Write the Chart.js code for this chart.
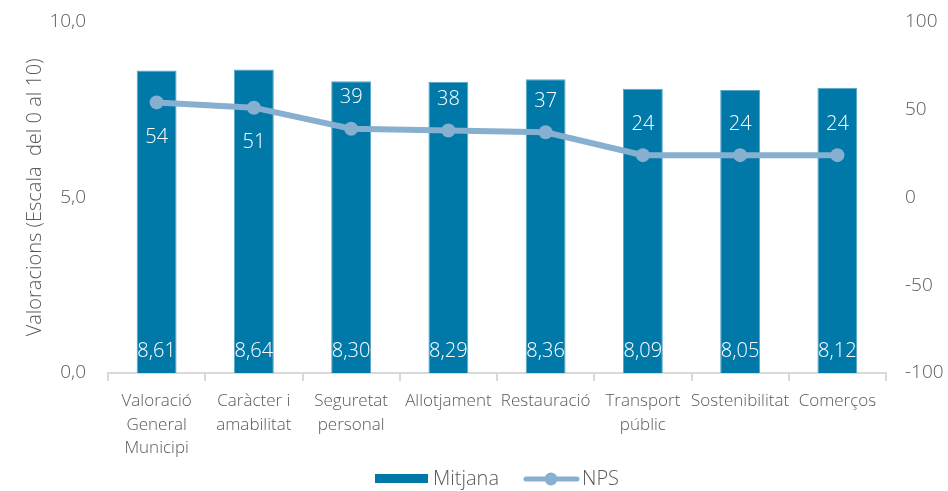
<html>
<head>
<meta charset="utf-8">
<script src="https://cdn.jsdelivr.net/npm/chart.js@4.4.1/dist/chart.umd.min.js"></script>
<style>
  body { margin: 0; background: #fff; }
  #chart { display: block; }
</style>
</head>
<body>
<canvas id="chart" width="948" height="491"></canvas>
<script>
// categories and values
var categories = [
  ["Valoració", "General", "Municipi"],
  ["Caràcter i", "amabilitat"],
  ["Seguretat", "personal"],
  "Allotjament",
  "Restauració",
  ["Transport", "públic"],
  "Sostenibilitat",
  "Comerços"
];
var mitjana = [8.61, 8.64, 8.30, 8.29, 8.36, 8.09, 8.05, 8.12];
var nps = [54, 51, 39, 38, 37, 24, 24, 24];
var seriesNames = ["Mitjana", "NPS"];

// where the NPS number sits relative to its point
var npsLabelSide = ["below", "below", "above", "above", "above", "above", "above", "above"];

var barColor = "#0079a8";
var lineColor = "#87afd0";
var textColor = "#595959";
var fontFamily = "'Open Sans', 'Noto Sans', sans-serif";

function comma(v, d) {
  return v.toFixed(d).replace(".", ",");
}

var valueLabels = {
  id: "valueLabels",
  afterDatasetsDraw: function(chart) {
    var ctx = chart.ctx;
    ctx.save();
    ctx.font = "300 20px " + fontFamily;
    ctx.fillStyle = "#ffffff";
    ctx.textAlign = "center";
    ctx.textBaseline = "middle";
    var bottom = chart.scales.y.getPixelForValue(0);
    chart.getDatasetMeta(0).data.forEach(function(bar, i) {
      ctx.fillText(comma(mitjana[i], 2), bar.x, bottom - 22);
    });
    chart.getDatasetMeta(1).data.forEach(function(pt, i) {
      var dy = npsLabelSide[i] === "below" ? 35 : -31;
      ctx.fillText(String(nps[i]), pt.x, pt.y + dy);
    });
    ctx.restore();
  }
};

// legend drawn by hand: a flat bar swatch and a line swatch with a dot
var bottomLegend = {
  id: "bottomLegend",
  afterDraw: function(chart) {
    var ctx = chart.ctx;
    var area = chart.chartArea;
    ctx.save();
    ctx.font = "300 20px " + fontFamily;
    ctx.textBaseline = "middle";
    ctx.textAlign = "left";
    var y = 479;
    var w0 = ctx.measureText(seriesNames[0]).width;
    var w1 = ctx.measureText(seriesNames[1]).width;
    var total = 53 + 5 + w0 + 25 + 55 + 3 + w1;
    var x = (area.left + area.right) / 2 - total / 2;

    ctx.fillStyle = barColor;
    ctx.fillRect(x, y - 5, 53, 9);
    x += 58;
    ctx.fillStyle = textColor;
    ctx.fillText(seriesNames[0], x, y);
    x += w0 + 25;

    ctx.strokeStyle = lineColor;
    ctx.lineWidth = 5;
    ctx.lineCap = "round";
    ctx.beginPath(); ctx.moveTo(x + 2, y); ctx.lineTo(x + 53, y); ctx.stroke();
    ctx.fillStyle = lineColor;
    ctx.beginPath(); ctx.arc(x + 27, y, 6.5, 0, Math.PI * 2); ctx.fill();
    x += 58;
    ctx.fillStyle = textColor;
    ctx.fillText(seriesNames[1], x, y);
    ctx.restore();
  }
};

new Chart(document.getElementById("chart"), {
  data: {
    labels: categories,
    datasets: [
      {
        type: "bar",
        label: seriesNames[0],
        data: mitjana,
        yAxisID: "y",
        backgroundColor: barColor,
        borderColor: "#5aa5c9",
        borderWidth: 1,
        barPercentage: 0.41,
        categoryPercentage: 1,
        order: 2
      },
      {
        type: "line",
        label: seriesNames[1],
        data: nps,
        yAxisID: "y2",
        borderColor: lineColor,
        backgroundColor: lineColor,
        borderWidth: 6,
        pointRadius: 7,
        pointBackgroundColor: lineColor,
        pointBorderWidth: 0,
        tension: 0,
        order: 1
      }
    ]
  },
  options: {
    responsive: false,
    animation: false,
    layout: { padding: { top: 0, bottom: 30, left: 23, right: 0 } },
    scales: {
      x: {
        offset: true,
        grid: {
          offset: true,
          drawOnChartArea: false,
          color: "#d9d9d9",
          tickLength: 8,
          lineWidth: 2
        },
        border: { display: true, color: "#d9d9d9", width: 2 },
        ticks: {
          color: textColor,
          font: { family: fontFamily, size: 17, weight: 300, lineHeight: 1.4 },
          maxRotation: 0,
          autoSkip: false,
          padding: 8
        },
        afterFit: function(s) { s.height = 88; }
      },
      y: {
        position: "left",
        min: 0,
        max: 10,
        grid: { display: false },
        border: { display: false },
        ticks: {
          stepSize: 5,
          color: textColor,
          padding: 14,
          font: { family: fontFamily, size: 19, weight: 300, lineHeight: 0.8 },
          callback: function(v) { return comma(v, 1); }
        },
        title: {
          display: true,
          text: "Valoracions (Escala  del 0 al 10)",
          color: textColor,
          font: { family: fontFamily, size: 20, weight: 300 },
          padding: 0
        },
        afterFit: function(s) { s.width = 85; }
      },
      y2: {
        position: "right",
        min: -100,
        max: 100,
        grid: { display: false },
        border: { display: false },
        ticks: {
          stepSize: 50,
          color: textColor,
          padding: 11,
          font: { family: fontFamily, size: 19, weight: 300, lineHeight: 0.8 }
        },
        afterFit: function(s) { s.width = 62; }
      }
    },
    plugins: {
      tooltip: { enabled: false },
      legend: { display: false }
    }
  },
  plugins: [valueLabels, bottomLegend]
});
</script>
</body>
</html>
